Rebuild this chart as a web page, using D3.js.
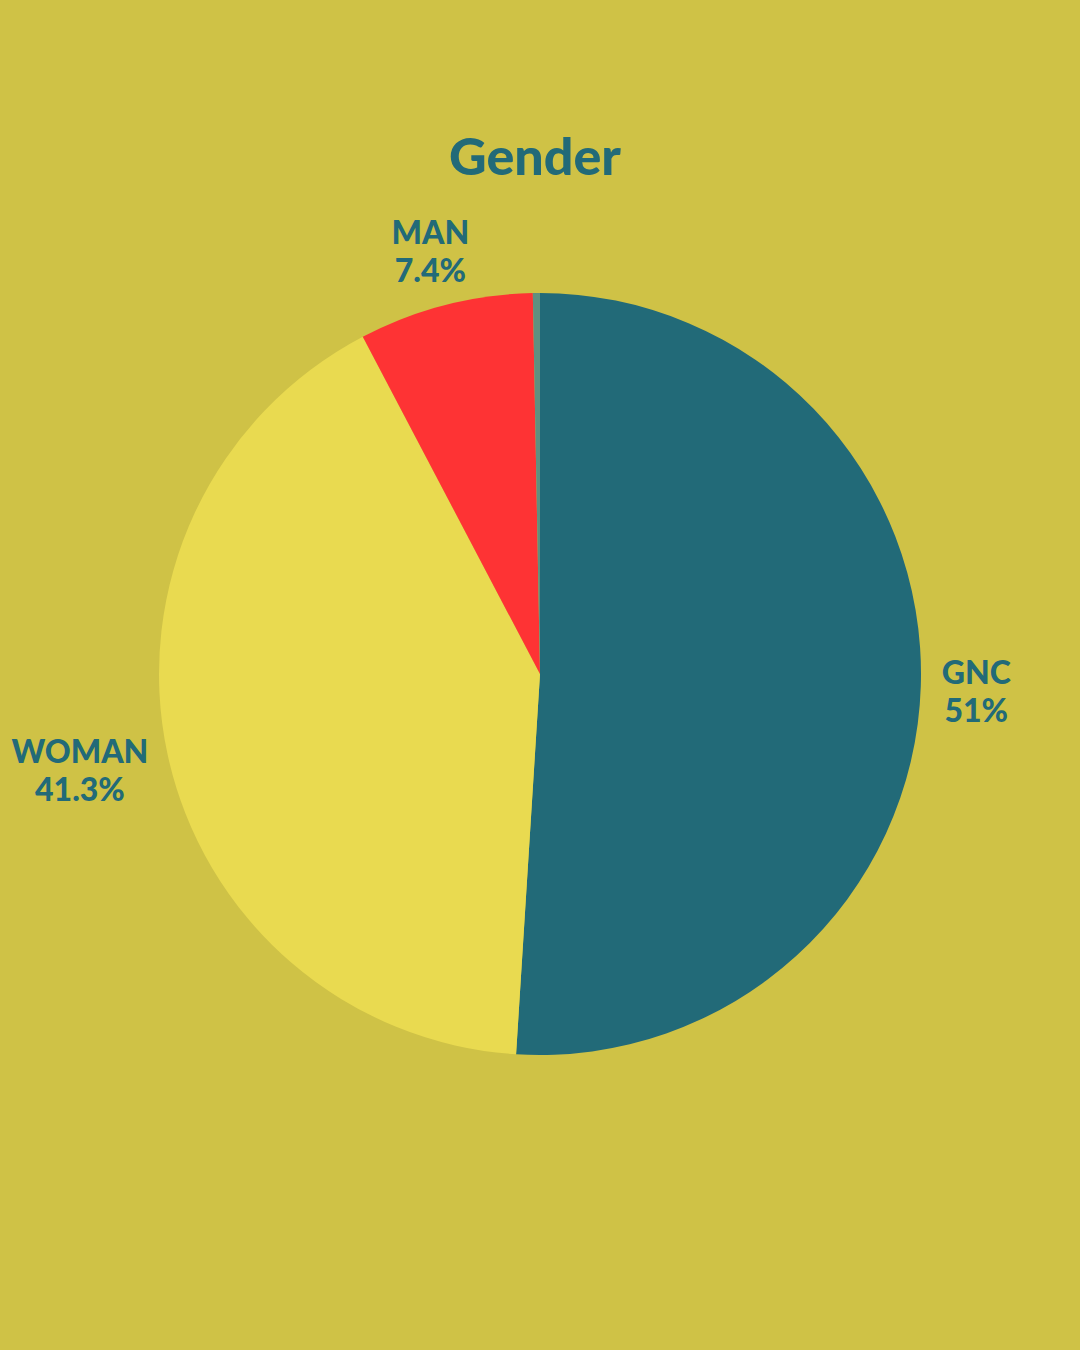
<!DOCTYPE html>
<html lang="en">
<head>
<meta charset="UTF-8">
<title>Gender</title>
<script src="https://d3js.org/d3.v7.min.js"></script>
<style>
    html, body { margin: 0; padding: 0; background: #cfc246; }
    svg { display: block; }
    text { font-family: "Lato", "Open Sans", sans-serif; font-weight: 900; fill: #226a78; }
</style>
</head>
<body>
<div id="chart"></div>
<script>
    // data, clockwise from 12 o'clock
    const categories = ["GNC", "WOMAN", "MAN", "OTHER"];
    const values = [51, 41.3, 7.4, 0.3];
    const labels = ["51%", "41.3%", "7.4%", null];
    const colors = ["#226a78", "#e9da50", "#fe3334", "#5f9080"];

    const width = 1080, height = 1350;
    const cx = 540, cy = 674, radius = 381;

    let svg = d3.select("#chart").append("svg")
        .attr("width", width)
        .attr("height", height);

    svg.append("text")
        .attr("x", 535)
        .attr("y", 175)
        .attr("text-anchor", "middle")
        .attr("font-size", "52px")
        .text("Gender");

    let slices = categories.map((c, i) => ({name: c, value: values[i], label: labels[i], color: colors[i]}));

    let pie = d3.pie().sort(null).value(d => d.value);
    let arc = d3.arc().innerRadius(0).outerRadius(radius);

    let g = svg.append("g").attr("transform", `translate(${cx},${cy})`);

    let arcs = pie(slices);

    g.selectAll("path")
        .data(arcs)
        .enter()
        .append("path")
        .attr("d", arc)
        .attr("fill", d => d.data.color);

    // outside labels, pushed out from an anchor point on a ring
    const labelR = 402, lineH = 38, fs = 32;
    let lab = g.selectAll("g.lab")
        .data(arcs.filter(d => d.data.label))
        .enter()
        .append("g")
        .attr("class", "lab");

    lab.each(function(d) {
        let grp = d3.select(this);
        let t = grp.append("text")
            .attr("text-anchor", "middle")
            .attr("font-size", fs + "px");
        t.append("tspan").attr("x", 0).attr("dy", 0).text(d.data.name);
        t.append("tspan").attr("x", 0).attr("dy", lineH).text(d.data.label);

        let bb = t.node().getBBox();
        let a = (d.startAngle + d.endAngle) / 2;
        let ax = Math.sin(a) * labelR, ay = -Math.cos(a) * labelR;
        let bx = ax + Math.sin(a) * bb.width / 2;
        let by = ay - Math.cos(a) * bb.height / 2 + 3;
        // centre the box on (bx, by)
        let dx = bx - (bb.x + bb.width / 2);
        let dy = by - (bb.y + bb.height / 2);
        grp.attr("transform", `translate(${dx},${dy})`);
    });
</script>
</body>
</html>
